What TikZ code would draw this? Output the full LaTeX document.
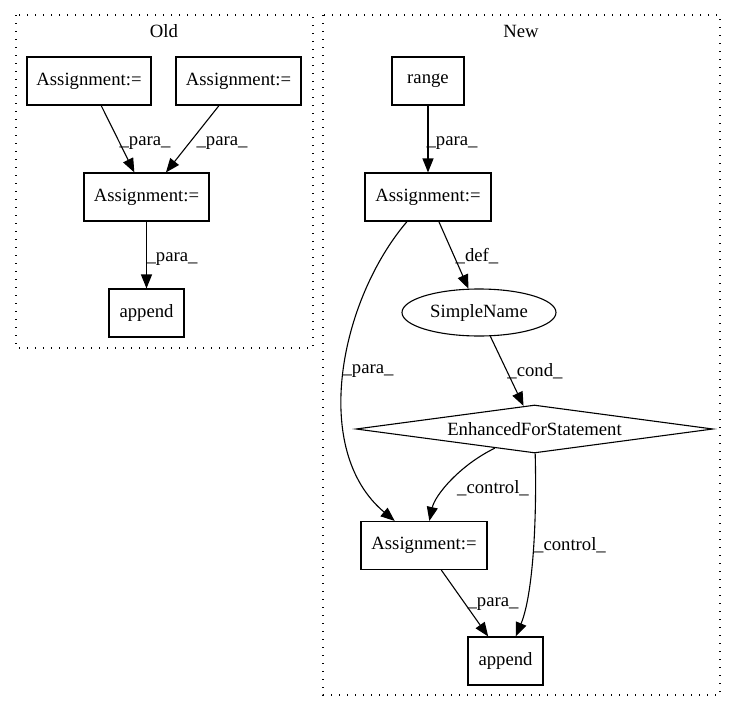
\documentclass[tikz,border=0pt]{standalone}
\usepackage{fontspec}
\setmainfont{Liberation Serif}
\usetikzlibrary{arrows.meta,shapes.geometric}
\begin{document}
\begin{tikzpicture}[x=1pt,y=-1pt,
  every node/.style={font=\fontsize{18.7}{22}\selectfont},
  box/.style={draw, rectangle, line width=1.1pt, minimum width=#1, minimum height=48pt, inner sep=0pt},
  ell/.style={draw, ellipse, line width=1.1pt, minimum width=154pt, minimum height=47pt, inner sep=0pt},
  dia/.style={draw, diamond, line width=1.1pt, aspect=7.44, minimum width=357pt, minimum height=48pt, inner sep=0pt},
  edge/.style={line width=1.1pt, -{Triangle[length=14pt,width=11pt]}},
  lbl/.style={inner sep=0pt},
  cluster/.style={line width=1.2pt, dash pattern=on 1.2pt off 6.8pt}
]
\useasboundingbox (0,0) rectangle (736,712);
% clusters
\draw[cluster] (16,15) rectangle (313,348);
\draw[cluster] (323,15) rectangle (720,695);
\node[lbl] (oldlbl) at (164,31) {Old};
\node[lbl] (newlbl) at (521,31) {New};
% Old nodes
\node[box=124pt] (a1) at (89,81) {Assignment:=};
\node[box=125pt] (a2) at (238.5,81) {Assignment:=};
\node[box=125pt] (a3) at (146.5,197) {Assignment:=};
\node[box=75pt] (ap1) at (146.5,313) {append};
% New nodes
\node[box=72pt] (rg) at (428,81) {range};
\node[box=126pt] (n1) at (428,197) {Assignment:=};
\node[ell] (sn) at (479,312.5) {SimpleName};
\node[dia] (ef) at (534.5,429) {EnhancedForStatement};
\node[box=126pt] (n2) at (424,545.5) {Assignment:=};
\node[box=75pt] (ap2) at (505.5,661) {append};
% Old edges
\draw[edge] (a1) -- (a3);
\draw[edge] (a2) -- (a3);
\draw[edge] (a3) -- (ap1);
\node[lbl] at (145,143) {\_para\_};
\node[lbl] at (222,143) {\_para\_};
\node[lbl] at (172,259) {\_para\_};
% New edges
\draw[edge] (rg) -- (n1);
\node[lbl] at (452,143) {\_para\_};
\draw[edge] (n1) -- (sn);
\node[lbl] at (477,256) {\_def\_};
\draw[edge] (n1) .. controls (340,300) and (310,450) .. (n2);
\node[lbl] at (368,371) {\_para\_};
\draw[edge] (sn) -- (ef);
\node[lbl] at (535,371) {\_cond\_};
\draw[edge] (ef) .. controls (460,465) and (435,495) .. (n2);
\node[lbl] at (493,488) {\_control\_};
\draw[edge] (ef) .. controls (537,520) and (533,595) .. (ap2);
\node[lbl] at (570,545) {\_control\_};
\draw[edge] (n2) -- (ap2);
\node[lbl] at (493,604) {\_para\_};
\end{tikzpicture}
\end{document}
